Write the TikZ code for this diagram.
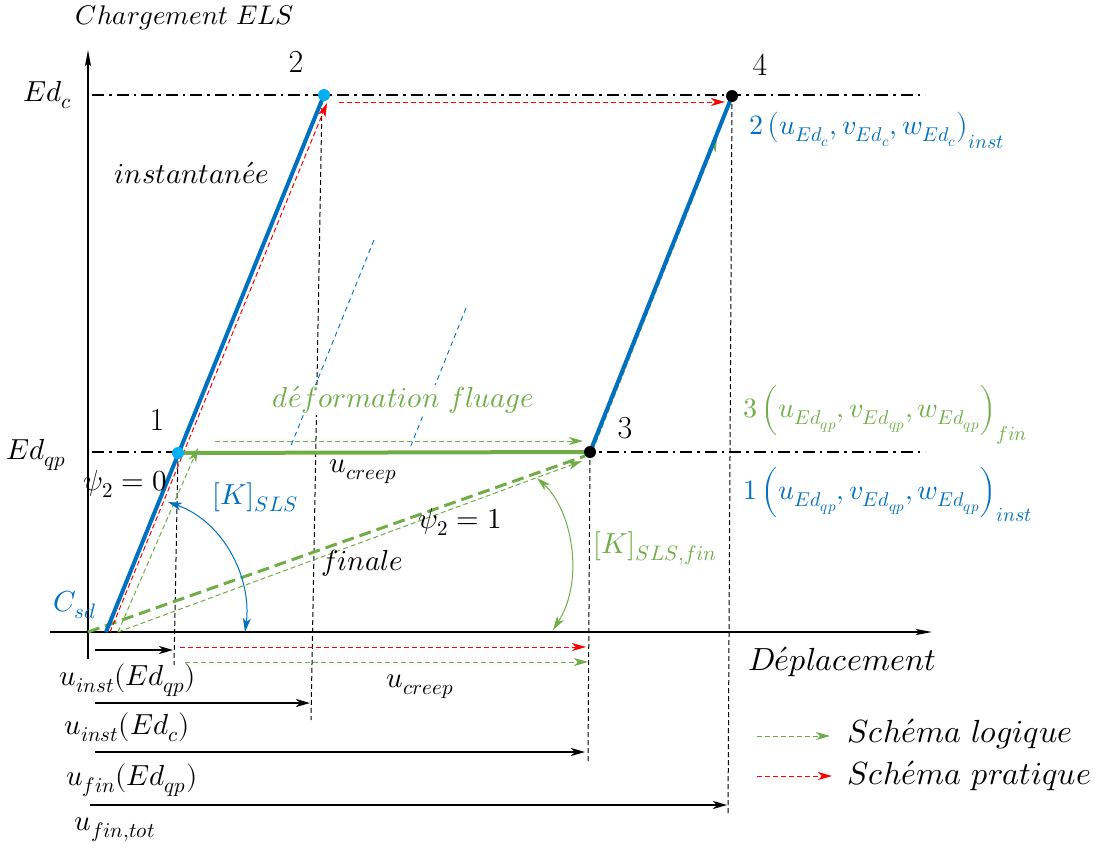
\documentclass[tikz,border=0pt]{standalone}
\usepackage{amsmath}
\usepackage{unicode-math}
\setmathfont{Latin Modern Math}
\usetikzlibrary{arrows.meta,calc}
\definecolor{elsblue}{RGB}{0,112,192}
\definecolor{elscyan}{RGB}{0,176,240}
\definecolor{elsgreen}{RGB}{112,173,71}
\DeclareMathSizes{27}{27}{19}{15}
\DeclareMathSizes{28}{28}{20}{15}
\DeclareMathSizes{29}{29}{21}{16}
\DeclareMathSizes{32}{32}{23}{17}
\newcommand{\lblfont}{\fontsize{29}{32}\selectfont}
\tikzset{
  axis/.style={line width=1.3pt,-{Stealth[length=16pt,width=6pt,inset=3pt]}},
  level/.style={line width=1.5pt,dash pattern=on 12pt off 5pt on 2.5pt off 5pt},
  proj/.style={line width=1pt,dash pattern=on 5pt off 3pt},
  loadpath/.style={elsblue,line width=4pt},
  creep/.style={elsgreen,line width=4pt},
  logic/.style={elsgreen,line width=1pt,dash pattern=on 5pt off 3pt,->},
  pratique/.style={red,line width=1pt,dash pattern=on 5pt off 3pt,->},
  meas/.style={line width=1.3pt,->},
  lbl/.style={font=\lblfont,inner sep=1pt},
  state/.style={font=\fontsize{28}{32}\selectfont,inner sep=1pt,anchor=west},
  big/.style={font=\fontsize{32}{36}\selectfont,inner sep=1pt},
  dot/.style={circle,inner sep=0pt,minimum size=12pt}
}
\begin{document}
\begin{tikzpicture}[x=1pt,y=-1pt,>={Stealth[length=14pt,width=8pt,inset=4pt]}]
\useasboundingbox (0,0) rectangle (1097,852);
% points of the loading path
\coordinate (O) at (88,632);
\coordinate (b0) at (106,632);
\coordinate (p1) at (178,453);
\coordinate (p2) at (324,95);
\coordinate (p3) at (590,452);
\coordinate (p4) at (732,96);
% axes and load levels
\draw[axis] (88,659) coordinate (yb) -- (88,50) coordinate (yt);
\draw[axis] (50,632) coordinate (xl) -- (932,632) coordinate (xr);
\draw[level] (92,95) coordinate (ec0) -- (925,95) coordinate (ec1);
\draw[level] (92,452) coordinate (eq0) -- (925,452) coordinate (eq1);
% projections
\draw[proj] (p1) -- (174,665) coordinate (v1);
\draw[proj] (322,100) coordinate (v2t) -- (311,720) coordinate (v2);
\draw[proj] (p3) -- (588,762) coordinate (v3);
\draw[proj] (p4) -- (728,815) coordinate (v4);
% creep guides
\draw[elsblue,line width=0.9pt,dash pattern=on 5pt off 4pt] (374,240) coordinate (g1) -- (290,448) coordinate (g2);
\draw[elsblue,line width=0.9pt,dash pattern=on 5pt off 4pt] (466,308) coordinate (g3) -- (410,448) coordinate (g4);
\node[lbl,text=elsgreen,fill=white] (fluage) at (403,400) {$d\acute{e}formation\ fluage$};
% secant stiffness
\draw[elsgreen,line width=3pt,dash pattern=on 12pt off 6pt] (O) -- (585,456) coordinate (s3);
% schemes
\draw[logic] (118,632) coordinate (l0) -- (198,448) coordinate (l1);
\draw[logic] (l0) -- (582,461) coordinate (l3);
\draw[logic] (215,441) coordinate (l4) -- (583,441) coordinate (l5);
\draw[logic] (593,450) coordinate (l6) -- (717,138) coordinate (l7);
\draw[pratique] (110,632) coordinate (r0) -- (327,103) coordinate (r1);
\draw[pratique] (339,102) coordinate (r2) -- (725,102) coordinate (r3);
% loading path
\draw[loadpath] (b0) -- (p2);
\draw[loadpath] (p3) -- (p4);
\draw[creep] (p1) -- (p3);
\node[dot,fill=elscyan] (d1) at (p1) {};
\node[dot,fill=elscyan] (d2) at (p2) {};
\node[dot,fill=black] (d3) at (p3) {};
\node[dot,fill=black] (d4) at (p4) {};
% stiffness arcs
\draw[elsblue,line width=1pt,<->] (168,502) coordinate (k0) .. controls (225,522) and (252,580) .. (245,632) coordinate (k1);
\draw[elsgreen,line width=1pt,<->] (537,478) coordinate (k2) .. controls (572,510) and (585,580) .. (553,630) coordinate (k3);
% displacements
\draw[meas] (95,650) coordinate (m0) -- (173,650) coordinate (m1);
\draw[pratique] (180,647) coordinate (m2) -- (586,647) coordinate (m3);
\draw[logic] (185,662) coordinate (m4) -- (588,662) coordinate (m5);
\draw[meas] (95,703) coordinate (m6) -- (310,703) coordinate (m7);
\draw[meas] (95,752) coordinate (m8) -- (585,752) coordinate (m9);
\draw[meas] (90,805) coordinate (m10) -- (727,805) coordinate (m11);
% labels
\node[lbl,font=\fontsize{27}{30}\selectfont] (tload) at (185,18) {$Chargement\ ELS$};
\node[big] (tdisp) at (842,662) {$D\acute{e}placement$};
\node[lbl] (tedc) at (48,95) {$Ed_c$};
\node[lbl] (tedqp) at (36,455) {$Ed_{qp}$};
\node[big] (n1) at (157,420) {1};
\node[big] (n2) at (296,62) {2};
\node[big] (n3) at (625,428) {3};
\node[big] (n4) at (760,65) {4};
\node[lbl] (tinst) at (192,173) {$instantan\acute{e}e$};
\node[lbl] (tfin) at (362,563) {$finale$};
\node[lbl] (tcreep) at (363,472) {$u_{creep}$};
\node[lbl] (tpsi0) at (125,484) {$\psi_2=0$};
\node[lbl] (tpsi1) at (460,522) {$\psi_2=1$};
\node[lbl,text=elsblue] (tksls) at (255,497) {$[K]_{SLS}$};
\node[lbl,text=elsgreen] (tkfin) at (655,548) {$[K]_{SLS,fin}$};
\node[lbl,text=elsblue] (tcsd) at (75,605) {$C_{sd}$};
\node[state,text=elsblue] (tstate2) at (748,130) {$2\,\bigl(u_{Ed_c},v_{Ed_c},w_{Ed_c}\bigr)_{inst}$};
\node[state,text=elsgreen] (tstate3) at (742,415) {$3\,\Bigl(u_{Ed_{qp}},v_{Ed_{qp}},w_{Ed_{qp}}\Bigr)_{fin}$};
\node[state,text=elsblue] (tstate1) at (742,495) {$1\,\Bigl(u_{Ed_{qp}},v_{Ed_{qp}},w_{Ed_{qp}}\Bigr)_{inst}$};
\node[lbl] (tuiqp) at (128,680) {$u_{inst}(Ed_{qp})$};
\node[lbl] (tucreep) at (420,687) {$u_{creep}$};
\node[lbl] (tuic) at (127,727) {$u_{inst}(Ed_c)$};
\node[lbl] (tufqp) at (132,780) {$u_{fin}(Ed_{qp})$};
\node[lbl] (tuft) at (115,830) {$u_{fin,tot}$};
% legend
\draw[logic] (757,736) coordinate (lg0) -- (830,736) coordinate (lg1);
\draw[pratique] (757,776) coordinate (lg2) -- (832,776) coordinate (lg3);
\node[big,anchor=west] (tlogic) at (846,734) {$Sch\acute{e}ma\ logique$};
\node[big,anchor=west] (tprat) at (846,776) {$Sch\acute{e}ma\ pratique$};
\end{tikzpicture}
\end{document}
